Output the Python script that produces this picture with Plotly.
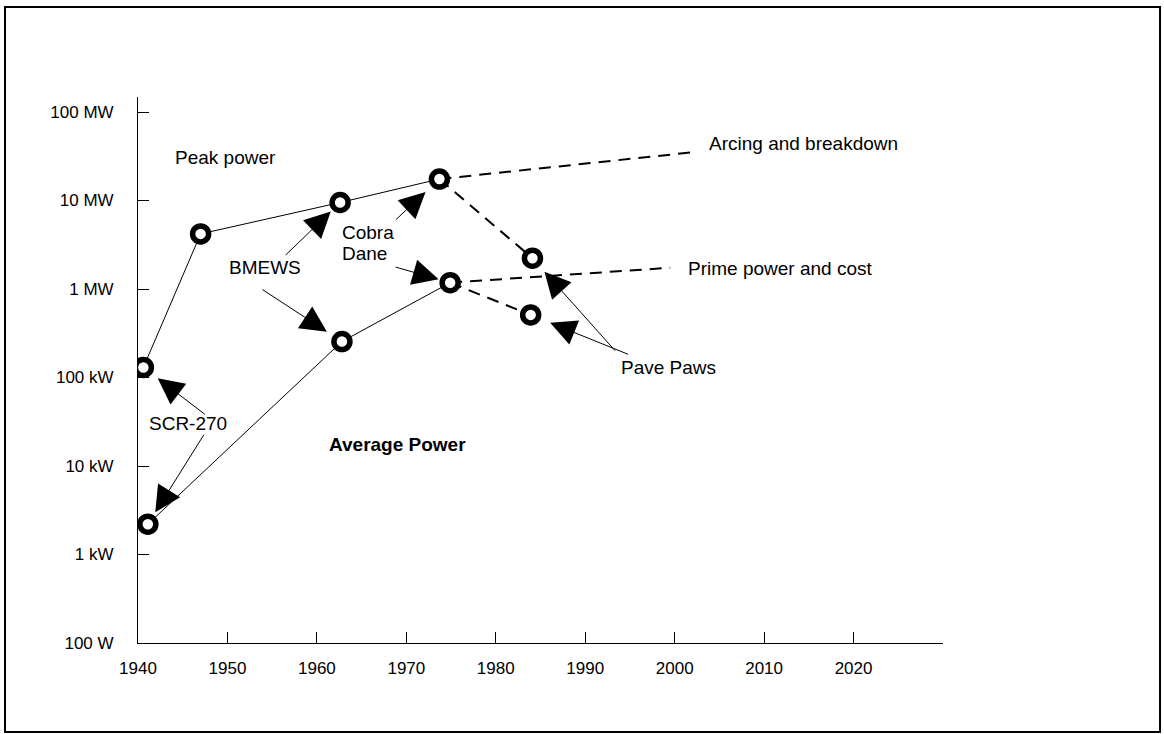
import numpy as np
import plotly.graph_objects as go

# ---------------- data ----------------
year_ticks = [1940, 1950, 1960, 1970, 1980, 1990, 2000, 2010, 2020]
power_tickvals = [1e2, 1e3, 1e4, 1e5, 1e6, 1e7, 1e8]
power_ticktext = ["100 W", "1 kW", "10 kW", "100 kW", "1 MW", "10 MW", "100 MW"]

peak_years = [1940.6, 1947.0, 1962.6, 1973.7]          # SCR-270, ?, BMEWS, Cobra Dane
peak_watts = [1.3e5, 4.2e6, 9.5e6, 1.75e7]
avg_years = [1941.1, 1962.8, 1974.9]                   # SCR-270, BMEWS, Cobra Dane
avg_watts = [2.2e3, 2.55e5, 1.18e6]
pave_years = [1984.1, 1983.9]                          # Pave Paws peak, average
pave_watts = [2.23e6, 5.1e5]
limit_years = [2001.9, 1999.5]                         # arcing, prime power line ends
limit_watts = [3.5e7, 1.74e6]

FONT = "Arial, Liberation Sans, sans-serif"

fig = go.Figure()

solid = dict(color="black", width=1)
dashed = dict(color="black", width=2, dash="12px,8px")

fig.add_trace(go.Scatter(x=peak_years, y=peak_watts, mode="lines", line=solid))
fig.add_trace(go.Scatter(x=avg_years, y=avg_watts, mode="lines", line=solid))
# dashed limits
fig.add_trace(go.Scatter(x=[peak_years[-1], pave_years[0]], y=[peak_watts[-1], pave_watts[0]],
                         mode="lines", line=dashed))
fig.add_trace(go.Scatter(x=[peak_years[-1], limit_years[0]], y=[peak_watts[-1], limit_watts[0]],
                         mode="lines", line=dashed))
fig.add_trace(go.Scatter(x=[avg_years[-1], pave_years[1]], y=[avg_watts[-1], pave_watts[1]],
                         mode="lines", line=dashed))
fig.add_trace(go.Scatter(x=[avg_years[-1], limit_years[1]], y=[avg_watts[-1], limit_watts[1]],
                         mode="lines", line=dashed))
# markers
mk = dict(symbol="circle", size=16, color="white", line=dict(color="black", width=5.5))
fig.add_trace(go.Scatter(x=peak_years + avg_years + pave_years,
                         y=peak_watts + avg_watts + pave_watts,
                         mode="markers", marker=mk))

# ---------------- arrows ----------------
def arrow(xv, yv, ax, ay, standoff):
    fig.add_annotation(x=xv, y=np.log10(yv), xref="x", yref="y", ax=ax, ay=ay,
                       text="", showarrow=True, arrowhead=2, arrowsize=5.2,
                       arrowwidth=1, arrowcolor="black", standoff=standoff)

arrow(peak_years[0], peak_watts[0], 63, 48, 18)     # SCR-270 peak
arrow(avg_years[0], avg_watts[0], 57, -91, 14)      # SCR-270 avg
arrow(peak_years[2], peak_watts[2], -56, 54, 13)    # BMEWS peak
arrow(avg_years[1], avg_watts[1], -81, -53, 18)     # BMEWS avg
arrow(peak_years[3], peak_watts[3], -45, 42, 19)    # Cobra Dane peak
arrow(avg_years[2], avg_watts[2], -56, -16, 12)     # Cobra Dane avg
arrow(pave_years[0], pave_watts[0], 84, 94, 18)     # Pave Paws peak
arrow(pave_years[1], pave_watts[1], 99, 40, 21)     # Pave Paws avg

# ---------------- text labels (paper coords) ----------------
def label(txt, x, y, anchor="left", bold=False):
    fig.add_annotation(text=("<b>%s</b>" % txt) if bold else txt, x=x, y=y,
                       xref="paper", yref="paper", xanchor=anchor, yanchor="middle",
                       showarrow=False, font=dict(family=FONT, size=19, color="black"))

label("Peak power", 0.0435, 0.890)
label("BMEWS", 0.1578, 0.687, anchor="center")
label("Cobra", 0.2509, 0.751)
label("Dane", 0.2509, 0.714)
label("SCR-270", 0.0621, 0.402, anchor="center")
label("Average Power", 0.2348, 0.363, bold=True)
label("Arcing and breakdown", 0.7065, 0.914)
label("Prime power and cost", 0.6807, 0.686)
label("Pave Paws", 0.5975, 0.505)

# outer frame
fig.add_shape(type="rect", xref="paper", yref="paper", x0=-0.1652, x1=1.2696,
              y0=-0.163, y1=1.1648, line=dict(color="black", width=2))

axis_common = dict(showline=True, linecolor="black", linewidth=1, ticks="inside",
                   ticklen=11, tickwidth=1, tickcolor="black", showgrid=False,
                   zeroline=False, tickfont=dict(family=FONT, size=17, color="black"))

fig.update_layout(
    width=1164, height=734,
    margin=dict(l=138, r=221, t=97, b=91),
    paper_bgcolor="white", plot_bgcolor="white",
    showlegend=False,
    font=dict(family=FONT, color="black"),
    xaxis=dict(range=[1940, 2030], tickmode="array", tickvals=year_ticks,
               ticklabelstandoff=10, **axis_common),
    yaxis=dict(type="log", range=[2, 8.17], tickmode="array", tickvals=power_tickvals,
               ticktext=power_ticktext, ticklabelstandoff=20, **axis_common),
)

fig.write_html("out.html", config={"displayModeBar": False},
               post_script="document.body.style.margin='0';")
